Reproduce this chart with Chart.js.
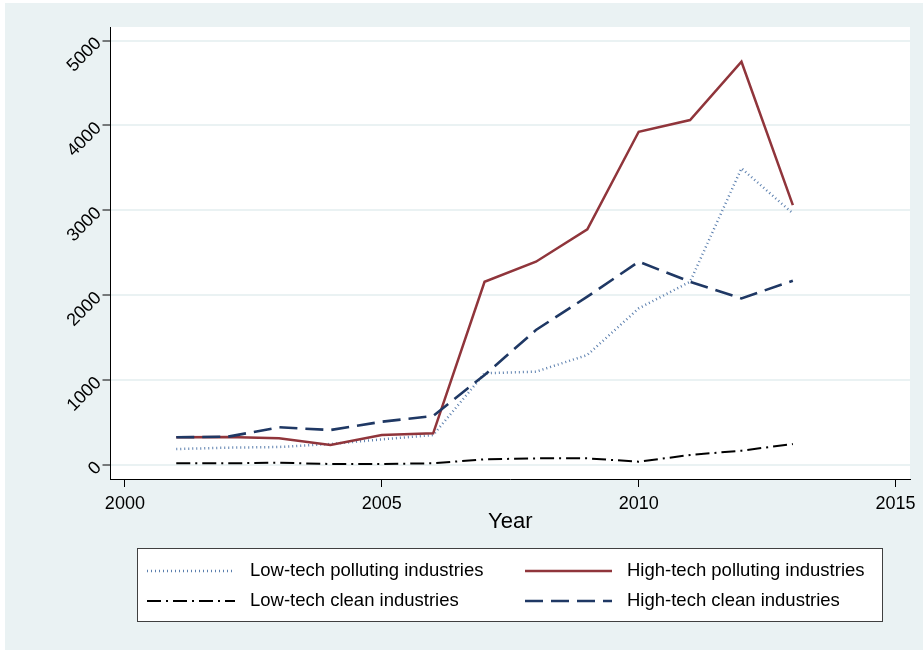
<!DOCTYPE html>
<html><head><meta charset="utf-8">
<script src="https://cdn.jsdelivr.net/npm/chart.js@4.4.0/dist/chart.umd.min.js"></script>
<style>html,body{margin:0;padding:0;background:#fff;}#wrap{width:923px;height:650px;}</style>
</head><body><div id="wrap"><canvas id="c" width="923" height="650"></canvas></div>
<script>
const years = [2001, 2002, 2003, 2004, 2005, 2006, 2007, 2008, 2009, 2010, 2011, 2012, 2013];
const lowTechPolluting  = [188, 204, 212, 247, 302, 353, 1080, 1099, 1296, 1845, 2159, 3495, 2964];
const highTechPolluting = [326, 330, 314, 235, 353, 373, 2159, 2395, 2776, 3926, 4064, 4751, 3062];
const lowTechClean      = [20, 20, 27, 12, 12, 20, 67, 78, 78, 39, 118, 169, 247];
const highTechClean     = [326, 333, 444, 412, 510, 577, 1060, 1590, 1983, 2395, 2159, 1963, 2171];
const seriesNames = ['Low-tech polluting industries', 'High-tech polluting industries', 'Low-tech clean industries', 'High-tech clean industries'];
const xTicks = [2000, 2005, 2010, 2015];
const yTicks = [0, 1000, 2000, 3000, 4000, 5000];
const xTitle = 'Year';

const FONT = "'Liberation Sans', Arial, sans-serif";
const BG = '#EAF2F3';

function pts(vals) { return years.map((y, i) => ({ x: y, y: vals[i] })); }

const styles = [
  { color: '#5B7FAE', width: 2.5, dash: [1, 3] },
  { color: '#90353B', width: 2.5, dash: [] },
  { color: '#000000', width: 2, dash: [14, 5, 2, 5] },
  { color: '#1F3864', width: 2.6, dash: [18, 8] }
];
const seriesVals = [lowTechPolluting, highTechPolluting, lowTechClean, highTechClean];

const datasets = seriesVals.map((v, i) => ({
  label: seriesNames[i],
  data: pts(v),
  borderColor: styles[i].color,
  borderWidth: styles[i].width,
  borderDash: styles[i].dash,
  borderCapStyle: 'butt',
  pointRadius: 0,
  tension: 0,
  fill: false,
  order: 3 - i
}));

const bgPlugin = {
  id: 'bg',
  beforeDraw(chart) {
    const ctx = chart.ctx, a = chart.chartArea;
    ctx.save();
    ctx.fillStyle = '#ffffff';
    ctx.fillRect(0, 0, chart.width, chart.height);
    ctx.fillStyle = BG;
    ctx.fillRect(5, 3, chart.width - 5, chart.height - 3);
    ctx.fillStyle = '#ffffff';
    ctx.fillRect(a.left, a.top, a.right - a.left, a.bottom - a.top);
    ctx.restore();
  }
};

const legendPlugin = {
  id: 'boxLegend',
  afterDraw(chart) {
    const ctx = chart.ctx;
    ctx.save();
    const bx = 137.5, by = 548.5, bw = 745, bh = 73;
    ctx.fillStyle = '#ffffff';
    ctx.fillRect(bx, by, bw, bh);
    ctx.strokeStyle = '#404040';
    ctx.lineWidth = 1;
    ctx.strokeRect(bx, by, bw, bh);
    const cols = [{ lx: 147, lw: 88, tx: 250 }, { lx: 525, lw: 87, tx: 627 }];
    const rows = [571, 601];
    chart.data.datasets.forEach((ds, i) => {
      const c = cols[i % 2], ry = rows[Math.floor(i / 2)];
      ctx.beginPath();
      ctx.strokeStyle = ds.borderColor;
      ctx.lineWidth = ds.borderWidth;
      ctx.setLineDash(ds.borderDash);
      ctx.lineCap = 'butt';
      ctx.moveTo(c.lx, ry);
      ctx.lineTo(c.lx + c.lw, ry);
      ctx.stroke();
      ctx.setLineDash([]);
      ctx.fillStyle = '#000';
      ctx.font = "18.5px " + FONT;
      ctx.textBaseline = 'middle';
      ctx.textAlign = 'left';
      ctx.fillText(ds.label, c.tx, ry);
    });
    ctx.restore();
  }
};

new Chart(document.getElementById('c'), {
  type: 'line',
  data: { datasets },
  plugins: [bgPlugin, legendPlugin],
  options: {
    responsive: false,
    animation: false,
    devicePixelRatio: 1,
    layout: { padding: { left: 0, top: 27, right: 13, bottom: 115 } },
    plugins: { legend: { display: false }, tooltip: { enabled: false } },
    scales: {
      x: {
        type: 'linear',
        min: 1999.72, max: 2015.28,
        afterBuildTicks: s => { s.ticks = xTicks.map(v => ({ value: v })); },
        afterFit: s => { s.height = 56; },
        grid: { drawOnChartArea: false, drawTicks: true, tickLength: 8, tickColor: '#000', tickWidth: 1 },
        border: { display: true, color: '#000', width: 1 },
        ticks: { color: '#000', font: { family: FONT, size: 18 }, padding: 6, maxRotation: 0, minRotation: 0, callback: v => String(v) },
        title: { display: true, text: xTitle, color: '#000', font: { family: FONT, size: 22 }, padding: { top: 0, bottom: 0 } }
      },
      y: {
        type: 'linear',
        min: -165, max: 5160,
        afterBuildTicks: s => { s.ticks = yTicks.map(v => ({ value: v })); },
        afterFit: s => { s.width = 110.5; },
        grid: { color: BG, lineWidth: 2, drawTicks: true, tickLength: 8, tickColor: '#000', tickWidth: 1 },
        border: { display: true, color: '#000', width: 1 },
        ticks: { color: '#000', font: { family: FONT, size: 18 }, padding: 4, minRotation: 45, maxRotation: 45, callback: v => String(v) }
      }
    }
  }
});
</script>
</body></html>
